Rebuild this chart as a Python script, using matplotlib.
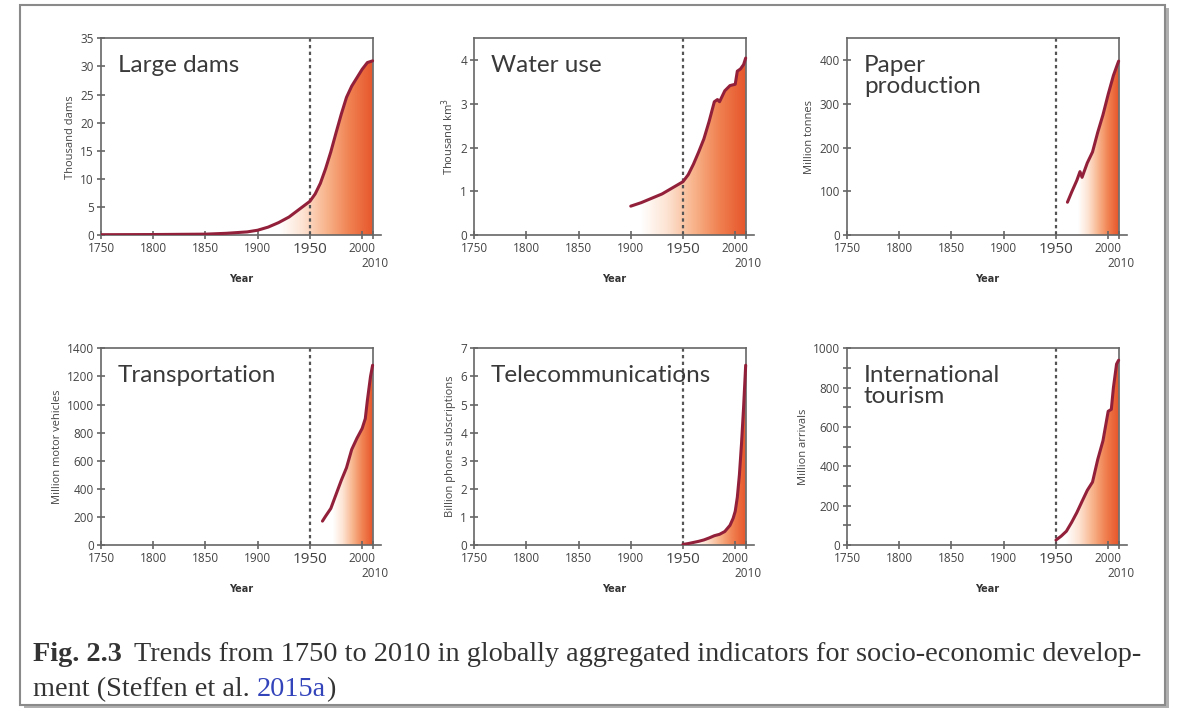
import numpy as np
import matplotlib
matplotlib.use("Agg")
import matplotlib.pyplot as plt
from matplotlib.colors import LinearSegmentedColormap
from matplotlib.patches import Rectangle
from matplotlib.transforms import blended_transform_factory

# data
dams_years = [1750, 1800, 1850, 1870, 1890, 1900, 1910, 1920, 1930, 1940, 1950, 1955, 1960,
              1965, 1970, 1975, 1980, 1985, 1990, 1995, 2000, 2005, 2010]
dams_vals = [0.05, 0.08, 0.15, 0.3, 0.55, 0.85, 1.4, 2.2, 3.2, 4.6, 6.0, 7.3, 9.2,
             11.8, 14.8, 18.2, 21.5, 24.5, 26.5, 28.0, 29.5, 30.7, 31.0]

water_years = [1900, 1910, 1920, 1930, 1940, 1950, 1955, 1960, 1965, 1970, 1975, 1980, 1983,
               1985, 1988, 1990, 1995, 2000, 2002, 2005, 2008, 2010]
water_vals = [0.66, 0.74, 0.84, 0.94, 1.08, 1.22, 1.38, 1.62, 1.9, 2.2, 2.6, 3.05, 3.1,
              3.05, 3.2, 3.3, 3.42, 3.45, 3.75, 3.8, 3.9, 4.05]

paper_years = [1961, 1965, 1970, 1973, 1975, 1980, 1985, 1990, 1995, 2000, 2005, 2008, 2010]
paper_vals = [75, 98, 125, 145, 132, 165, 190, 235, 275, 322, 365, 385, 398]

transport_years = [1962, 1965, 1970, 1975, 1980, 1985, 1990, 1995, 2000, 2003, 2005, 2008, 2010]
transport_vals = [170, 205, 260, 360, 460, 550, 680, 760, 830, 900, 1030, 1200, 1280]

telecom_years = [1950, 1955, 1960, 1965, 1970, 1975, 1980, 1985, 1990, 1995, 1998, 2000,
                 2002, 2004, 2006, 2008, 2010]
telecom_vals = [0.02, 0.05, 0.09, 0.13, 0.18, 0.25, 0.33, 0.38, 0.48, 0.7, 0.95, 1.2,
                1.7, 2.5, 3.6, 4.9, 6.4]

tourism_years = [1950, 1955, 1960, 1965, 1970, 1975, 1980, 1985, 1990, 1995, 2000, 2003,
                 2005, 2008, 2010]
tourism_vals = [25, 45, 70, 115, 165, 222, 278, 320, 435, 530, 680, 690, 800, 920, 940]

titles = ["Large dams", "Water use", "Paper\nproduction",
          "Transportation", "Telecommunications", "International\ntourism"]
ylabels = ["Thousand dams", "Thousand km$^3$", "Million tonnes",
           "Million motor vehicles", "Billion phone subscriptions", "Million arrivals"]
ymaxes = [35, 4.5, 450, 1400, 7, 1000]
ysteps = [5, 1, 100, 200, 1, 200]
yminor = [None, None, None, None, None, 100]
grad_start = [1920, 1910, 1971, 1972, 1960, 1960]
year_ticks = [1750, 1800, 1850, 1900, 1950, 2000, 2010]
year_labels = ["1750", "1800", "1850", "1900", "1950", "2000", ""]

series = [(dams_years, dams_vals), (water_years, water_vals), (paper_years, paper_vals),
          (transport_years, transport_vals), (telecom_years, telecom_vals),
          (tourism_years, tourism_vals)]

grad = LinearSegmentedColormap.from_list(
    "fade", ["#ffffff", "#fde3d2", "#f8b48c", "#f08050", "#e6552b"])
line_col = "#93203a"
axis_col = "#666666"
text_col = "#444444"

fig = plt.figure(figsize=(11.78, 7.11), dpi=100)

# page frame with shadow
fig.patches.append(Rectangle((0.020, 0.004), 0.972, 0.985, transform=fig.transFigure,
                             facecolor="#b0b0b0", edgecolor="none", zorder=-3))
fig.patches.append(Rectangle((0.017, 0.008), 0.972, 0.985, transform=fig.transFigure,
                             facecolor="white", edgecolor="#8a8a8a", lw=1.5, zorder=-2))

lefts = [0.0857, 0.4024, 0.719]
bottoms = [0.6695, 0.2335]
w, h = 0.2377, 0.2765

for i, (yrs, vals) in enumerate(series):
    ax = fig.add_axes([lefts[i % 3], bottoms[i // 3], w, h])
    ax.set_xlim(1750, 2018)
    ax.set_ylim(0, ymaxes[i])

    poly = ax.fill_between(yrs, 0, vals, facecolor="none", edgecolor="none")
    img = ax.imshow(np.linspace(0, 1, 256).reshape(1, -1), cmap=grad, aspect="auto",
                    extent=(grad_start[i], 2010, 0, ymaxes[i]), zorder=1)
    img.set_clip_path(poly.get_paths()[0], transform=ax.transData)
    ax.set_xlim(1750, 2018)
    ax.set_ylim(0, ymaxes[i])

    ax.plot(yrs, vals, color=line_col, lw=2.2, zorder=3, solid_capstyle="round")
    ax.axvline(1950, color="#555555", lw=1.6, ls=(0, (1.5, 1.5)), zorder=2)

    ax.text(0.06, 0.915, titles[i], transform=ax.transAxes, ha="left", va="top",
            fontsize=17.5, family="Lato", color="#3a3a3a", linespacing=1.0, zorder=4)

    for s in ["left", "bottom", "top", "right"]:
        ax.spines[s].set_color(axis_col)
        ax.spines[s].set_linewidth(1.2)
    ax.spines["top"].set_bounds(1750, 2010)
    ax.spines["right"].set_position(("data", 2010))

    ax.set_yticks(np.arange(0, ymaxes[i] + 0.01, ysteps[i]))
    if yminor[i]:
        ax.set_yticks(np.arange(0, ymaxes[i] + 0.01, yminor[i]), minor=True)
    ax.set_xticks(year_ticks)
    ax.set_xticklabels(year_labels)
    ax.tick_params(axis="both", direction="inout", length=6, width=1.2, color=axis_col,
                   labelsize=8.5, labelcolor=text_col, pad=2)
    ax.tick_params(axis="y", which="minor", direction="inout", length=6, width=1.2,
                   color=axis_col)
    for lab in ax.get_xticklabels():
        if lab.get_text() == "1950":
            lab.set_fontsize(11)
        lab.set_family("Open Sans")
    for lab in ax.get_yticklabels():
        lab.set_family("Open Sans")
    trans = blended_transform_factory(ax.transData, ax.transAxes)
    ax.text(2012, -0.11, "2010", transform=trans, ha="center", va="top", fontsize=8.5,
            color=text_col, family="Open Sans")
    ax.set_ylabel(ylabels[i], fontsize=8, color=text_col, family="Open Sans", labelpad=3)
    ax.set_xlabel("Year", fontsize=7, color="#333333", fontweight="bold", labelpad=12)

# caption
cap_ax = fig.axes[0]
t1 = fig.text(0.028, 0.062, "Fig. 2.3", family="Liberation Serif", fontweight="bold",
              fontsize=20.3, color="#333333", va="bottom")
cap_ax.annotate(
    "Trends from 1750 to 2010 in globally aggregated indicators for socio-economic develop-",
    xy=(1, 0), xycoords=t1, xytext=(9, 0), textcoords="offset points", va="bottom",
    family="Liberation Serif", fontsize=20.3, color="#333333", annotation_clip=False)
l2 = fig.text(0.028, 0.012, "ment (Steffen et al. ", family="Liberation Serif",
              fontsize=20.3, color="#333333", va="bottom")
l3 = cap_ax.annotate("2015a", xy=(1, 0), xycoords=l2, va="bottom",
                     family="Liberation Serif", fontsize=20.3, color="#3344bb",
                     annotation_clip=False)
cap_ax.annotate(")", xy=(1, 0), xycoords=l3, va="bottom",
                family="Liberation Serif", fontsize=20.3, color="#333333",
                annotation_clip=False)

fig.savefig("out.png", dpi=100)
